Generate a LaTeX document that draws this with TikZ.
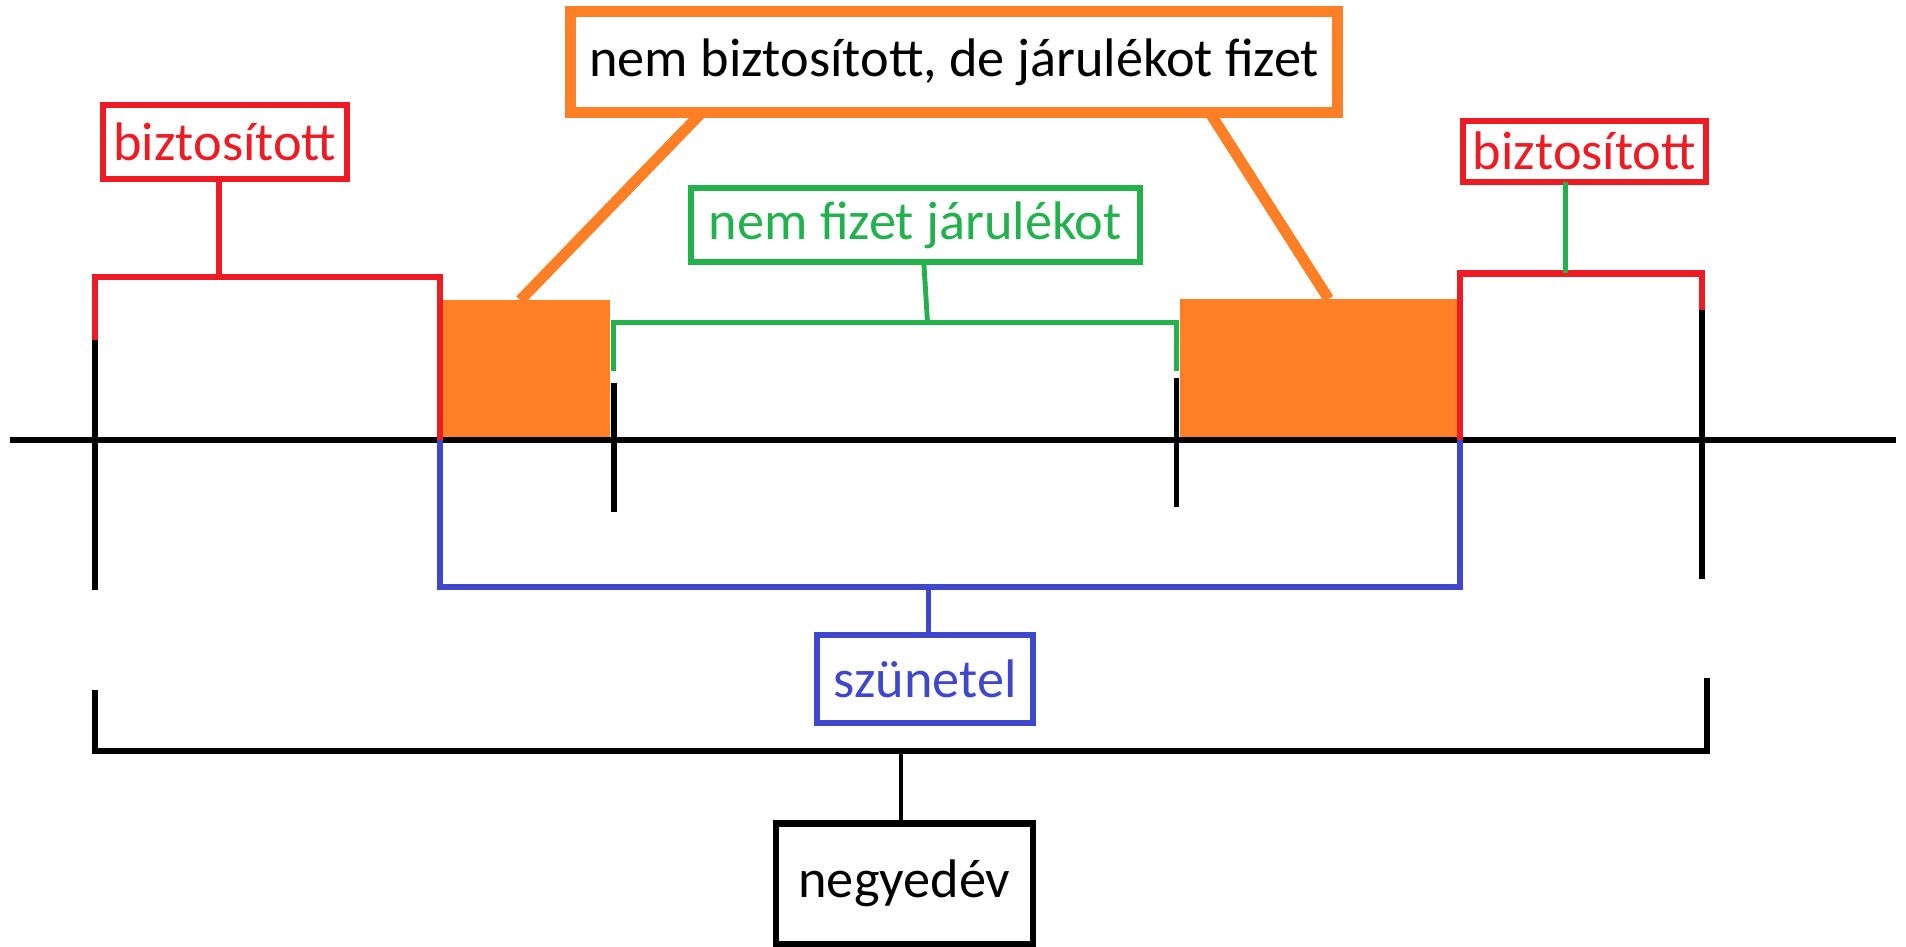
\documentclass[tikz,border=0pt]{standalone}
\usepackage{fontspec}
\setmainfont{Carlito}
\definecolor{pred}{RGB}{237,28,36}
\definecolor{porange}{RGB}{255,127,39}
\definecolor{pgreen}{RGB}{34,177,76}
\definecolor{pblue}{RGB}{63,72,204}
\begin{document}
\begin{tikzpicture}[x=0.01cm, y=-0.01cm,
    lbl/.style={draw, rectangle, inner sep=0pt, outer sep=0pt, line width=0.05cm,
        font=\fontsize{12.7}{15}\selectfont},
    period/.style={fill=porange, inner sep=0pt, outer sep=0pt}]
    \useasboundingbox (0,0) rectangle (1568,779);

    % paid periods without insurance
    \node[period, minimum width=1.4cm, minimum height=1.15cm] (gapL) at (432,304.5) {};
    \node[period, minimum width=2.3cm, minimum height=1.16cm] (gapR) at (1086,304) {};

    % time axis and ticks
    \coordinate (axL) at (8,362);
    \coordinate (axR) at (1560,362);
    \draw[line width=0.05cm] (axL) -- (axR);
    \coordinate (tA) at (78,280);
    \coordinate (tC) at (505,315);
    \coordinate (tD) at (968,311);
    \coordinate (tF) at (1400,255);
    \draw[line width=0.045cm] (tA) -- (78,485);
    \draw[line width=0.045cm] (tC) -- (505,421);
    \draw[line width=0.045cm] (tD) -- (968,417);
    \draw[line width=0.045cm] (tF) -- (1400,476);

    % labels
    \node[lbl, draw=porange, line width=0.09cm, minimum width=6.31cm, minimum height=0.83cm] (paid) at (785,51) {nem biztosított, de járulékot fizet};
    \node[lbl, draw=pred, text=pred, minimum width=2.01cm, minimum height=0.61cm] (insL) at (185,117) {biztosított};
    \node[lbl, draw=pred, text=pred, minimum width=2cm, minimum height=0.5cm] (insR) at (1303.5,124.5) {biztosított};
    \node[lbl, draw=pgreen, text=pgreen, minimum width=3.69cm, minimum height=0.61cm] (nopay) at (753,185) {nem fizet járulékot};
    \node[lbl, draw=pblue, text=pblue, minimum width=1.77cm, minimum height=0.72cm] (pause) at (761,558.5) {szünetel};
    \node[lbl, minimum width=2.11cm, minimum height=0.99cm] (quarter) at (744,727) {negyedév};

    % orange legs
    \draw[porange, line width=0.09cm] ([xshift=1.08cm]paid.south west) -- ([xshift=0.66cm]gapL.north west);
    \draw[porange, line width=0.09cm] ([xshift=-1.055cm]paid.south east) -- ([xshift=1.22cm]gapR.north west);

    % red brackets
    \draw[pred, line width=0.05cm] (tA) -- ++(0,-52) -| (gapL.south west);
    \draw[pred, line width=0.05cm] ([xshift=-0.05cm]insL.south) -- ([xshift=-0.05cm]insL.south |- 0,228);
    \draw[pred, line width=0.05cm] (tF) -- ++(0,-30) -| (gapR.south east);
    \draw[pgreen, line width=0.04cm] ([xshift=-0.155cm]insR.south) -- ([xshift=-0.155cm]insR.south |- 0,225);

    % green bracket
    \draw[pgreen, line width=0.04cm] (505,305) |- (968,265) -- (968,305);
    \draw[pgreen, line width=0.04cm] ([xshift=0.07cm]nopay.south) -- ([xshift=0.1cm]nopay.south |- 0,265);

    % blue bracket
    \draw[pblue, line width=0.05cm] (gapL.south west) -- ++(0,121) -| (gapR.south east);
    \draw[pblue, line width=0.04cm] ([xshift=0.03cm]pause.north) -- ([xshift=0.03cm]pause.north |- 0,483);

    % quarter bracket
    \draw[line width=0.05cm] (78,568) -- ++(0,50) -| (1404,558);
    \draw[line width=0.035cm] ([xshift=-0.03cm]quarter.north) -- ([xshift=-0.03cm]quarter.north |- 0,618);
\end{tikzpicture}
\end{document}
